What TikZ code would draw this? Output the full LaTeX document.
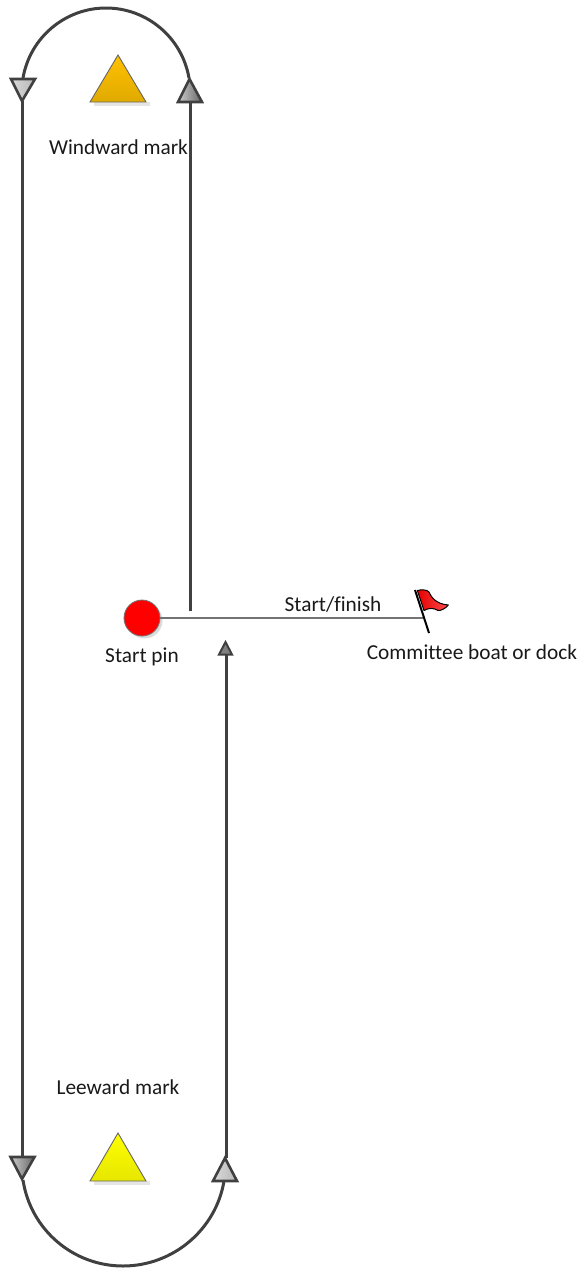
\documentclass[tikz,border=0pt]{standalone}
\usepackage{fontspec}
\setmainfont[Ligatures=NoCommon]{Carlito}
\definecolor{linedark}{HTML}{404040}
\definecolor{ambertop}{RGB}{255,192,0}
\definecolor{amberlow}{RGB}{224,170,0}
\definecolor{yellowlow}{RGB}{230,230,0}
\tikzset{
  course/.style={draw=linedark,line width=3pt},
  tiplight/.style={draw=linedark,line width=2.6pt,line join=miter,left color=white!85!black,right color=white!72!black},
  tipdark/.style={draw=linedark,line width=2.6pt,line join=miter,left color=white!80!black,right color=white!40!black},
  tipsmall/.style={draw=linedark,line width=2pt,line join=miter,fill=white!50!black},
  markshape/.style={draw=black!60,line width=.9pt,line join=miter},
  softshadow/.style={fill=black!10,draw=none},
  lbl/.style={font=\fontsize{21.3}{25}\selectfont,text=black!90,inner sep=0pt,anchor=center},
}
\begin{document}
\begin{tikzpicture}[x=1pt,y=-1pt]
\useasboundingbox (0,0) rectangle (582,1270);
% named points
\coordinate (tl) at (23,78);
\coordinate (tr) at (189,78);
\coordinate (dl) at (22,101);
\coordinate (ur) at (190,102);
\coordinate (urend) at (190,611);
\coordinate (bl) at (22,1157);
\coordinate (br) at (226,1158);
\coordinate (bla) at (23,1180);
\coordinate (bra) at (224,1181);
\coordinate (sm) at (226,655);
\coordinate (poleA) at (415,590);
\coordinate (poleB) at (429,633);
\coordinate (poleM) at (423,618);
% shadows
\fill[softshadow] (94,102) -- (150,102) -- (150,106) -- (94,106) -- cycle;
\fill[softshadow] (94,1181) -- (150,1181) -- (150,1185) -- (94,1185) -- cycle;
\fill[black!14] (144.5,620.5) circle (18);
% arcs
\draw[course] (tl) .. controls (30,37.6) and (65,8) .. (106,8) .. controls (147,8) and (182,37.6) .. (tr);
\draw[course] (bla) .. controls (30.5,1229.5) and (73,1266) .. (123,1266) .. controls (173,1266) and (216,1229.5) .. (bra);
% straight course legs
\draw[course] (dl) -- (bl);
\draw[course] (ur) -- (urend);
\draw[course] (br) -- (sm);
% start line
\node[circle,minimum size=36pt,inner sep=0pt,draw=black!55,line width=.8pt,fill=red] (pin) at (142,618) {};
\draw[draw=black!55,line width=1.3pt] (pin) -- (poleM);
% arrow tips
\draw[tiplight] (11,79) -- (35,79) -- (22,101) -- cycle;
\draw[tipdark] (189.5,79) -- (202,102) -- (178,102) -- cycle;
\draw[tipdark] (10.5,1157) -- (34.5,1157) -- (22,1179) -- cycle;
\draw[tiplight] (225,1158) -- (237,1181) -- (213,1181) -- cycle;
\draw[tipsmall] (225.5,642) -- (232,654.5) -- (219,654.5) -- cycle;
% marks
\path[markshape,top color=ambertop,bottom color=amberlow] (118,55) -- (146,102) -- (90,102) -- cycle;
\path[markshape,top color=yellow,bottom color=yellowlow] (118,1133) -- (146,1181) -- (90,1181) -- cycle;
% flag
\draw[black,line width=2pt] (poleA) -- (poleB);
\draw[black,line width=1pt,line join=round,left color=red!90!black,right color=red!70!white]
 (417.3,590.5) .. controls (421,589.5) and (427,589.5) .. (429,592)
 .. controls (431,597) and (436,604) .. (448.3,605)
 .. controls (446,608) and (441,611) .. (438,610.5)
 .. controls (434,608) and (429,607.5) .. (424,610.5) -- cycle;
% labels
\node[lbl] (windward) at (118.5,147) {Windward mark};
\node[lbl] (startpin) at (142,657) {Start pin};
\node[lbl] (startfinish) at (333,605) {Start/finish};
\node[lbl] (committee) at (472,652) {Committee boat or dock};
\node[lbl] (leeward) at (118,1087) {Leeward mark};
\end{tikzpicture}
\end{document}
